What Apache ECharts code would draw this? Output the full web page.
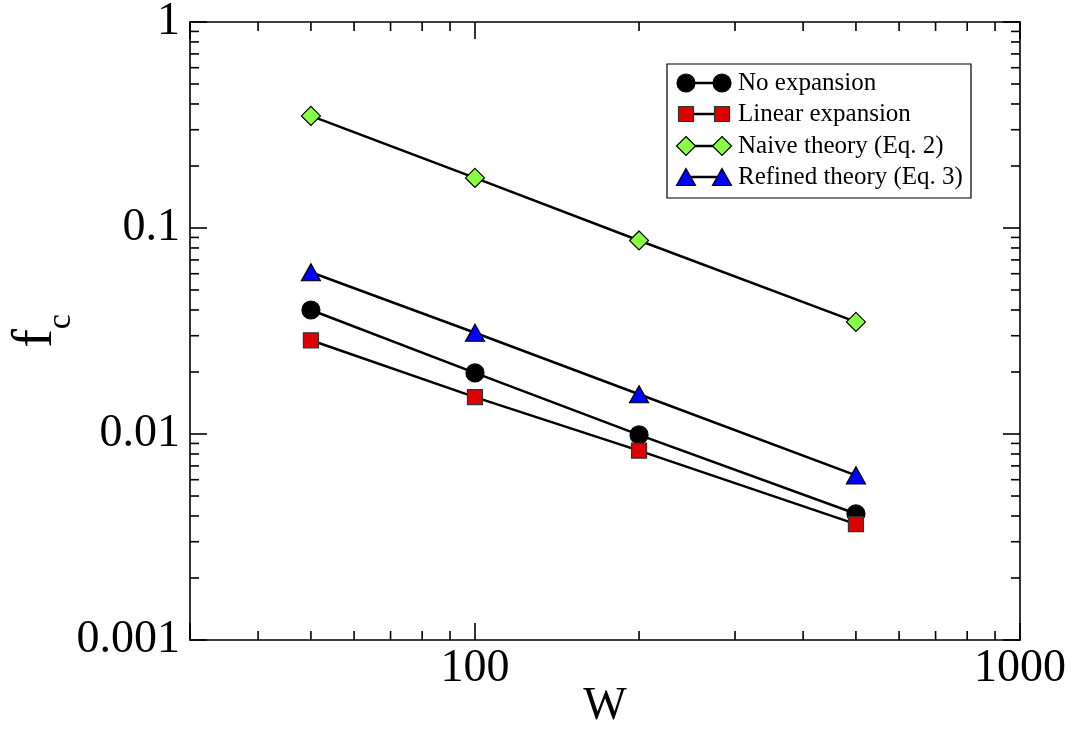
<!DOCTYPE html>
<html>
<head>
<meta charset="utf-8">
<script src="https://cdn.jsdelivr.net/npm/echarts@6/dist/echarts.min.js"></script>
<style>html,body{margin:0;padding:0;background:#fff}#c{width:1076px;height:730px}</style>
</head>
<body>
<div id="c"></div>
<script>
var W = [50, 100, 200, 500];
var noExpansion = [0.040, 0.0198, 0.0099, 0.0041];
var linearExpansion = [0.0285, 0.0151, 0.0083, 0.00365];
var naiveTheory = [0.35, 0.175, 0.087, 0.035];
var refinedTheory = [0.061, 0.031, 0.0156, 0.0063];
var seriesNames = ['No expansion', 'Linear expansion', 'Naive theory (Eq. 2)', 'Refined theory (Eq. 3)'];
var xTickValues = [100, 1000];
var xTickLabels = ['100', '1000'];
var yTickValues = [0.001, 0.01, 0.1, 1];
var yTickLabels = ['0.001', '0.01', '0.1', '1'];

var FONT = '"Liberation Serif", "Times New Roman", Times, serif';
var chart = echarts.init(document.getElementById('c'));

function pair(vals) { return W.map(function (w, i) { return [w, vals[i]]; }); }
function near(v, arr) {
  for (var i = 0; i < arr.length; i++) {
    if (Math.abs(Math.log(v) / Math.LN10 - Math.log(arr[i]) / Math.LN10) < 1e-6) return i;
  }
  return -1;
}

var axisLineStyle = { color: '#000', width: 1.6 };
var tickStyle = { color: '#000', width: 1.6 };

function xAxisCfg(pos, showLabel) {
  return {
    type: 'log', logBase: 10, min: 30, max: 1000, position: pos,
    axisLine: { show: true, onZero: false, lineStyle: axisLineStyle },
    axisTick: { show: true, inside: true, length: 17, lineStyle: tickStyle },
    splitLine: { show: false },
    axisLabel: {
      show: showLabel, margin: 6, fontFamily: FONT, fontSize: 46, color: '#000',
      formatter: function (v) { var i = near(v, xTickValues); return i >= 0 ? xTickLabels[i] : ''; }
    },
    name: showLabel ? 'W' : '', nameLocation: 'middle', nameGap: 44, nameMoveOverlap: false,
    nameTextStyle: { fontFamily: FONT, fontSize: 46, color: '#000' }
  };
}
function yAxisCfg(pos, showLabel) {
  return {
    type: 'log', logBase: 10, min: 0.001, max: 1, position: pos,
    axisLine: { show: true, onZero: false, lineStyle: axisLineStyle },
    axisTick: { show: true, inside: true, length: 17, lineStyle: tickStyle },
    splitLine: { show: false },
    axisLabel: {
      show: showLabel, margin: 10, fontFamily: FONT, fontSize: 46, color: '#000',
      formatter: function (v) { var i = near(v, yTickValues); return i >= 0 ? yTickLabels[i] : ''; }
    },
    name: showLabel ? '{f|f}{c|c}' : '', nameLocation: 'middle', nameRotate: 90, nameGap: 112, nameMoveOverlap: false,
    nameTextStyle: {
      rich: {
        f: { fontFamily: FONT, fontSize: 56, color: '#000', verticalAlign: 'top', padding: [0, 0, 14, 0] },
        c: { fontFamily: FONT, fontSize: 34, color: '#000', verticalAlign: 'bottom' }
      }
    }
  };
}

function lineSeries(name, vals, symbol, size, color, borderColor) {
  return {
    name: name, type: 'line', data: pair(vals), symbol: symbol, symbolSize: size,
    showAllSymbol: true, animation: false, z: 3,
    lineStyle: { color: '#000', width: 2.5 },
    itemStyle: { color: color, borderColor: borderColor, borderWidth: 1.2 },
    emphasis: { disabled: true }
  };
}

var option = {
  backgroundColor: '#fff',
  animation: false,
  grid: { left: 190, right: 56, top: 22, bottom: 90, containLabel: false, outerBoundsMode: 'none' },
  xAxis: [xAxisCfg('bottom', true), xAxisCfg('top', false)],
  yAxis: [yAxisCfg('left', true), yAxisCfg('right', false)],
  series: [
    lineSeries(seriesNames[0], noExpansion, 'circle', 18, '#000', '#000'),
    lineSeries(seriesNames[1], linearExpansion, 'rect', 15, '#dd0000', '#333'),
    lineSeries(seriesNames[2], naiveTheory, 'diamond', 19, '#88ff44', '#000'),
    lineSeries(seriesNames[3], refinedTheory, 'triangle', [19, 17], '#0000ff', '#000')
  ]
};
chart.setOption(option);

// minor ticks + legend (positions from the chart's own scales)
var g = [];
var gLeft = chart.convertToPixel({ xAxisIndex: 0 }, 30);
var gRight = chart.convertToPixel({ xAxisIndex: 0 }, 1000);
var gTop = chart.convertToPixel({ yAxisIndex: 0 }, 1);
var gBottom = chart.convertToPixel({ yAxisIndex: 0 }, 0.001);
var minorLen = 9;
function addLine(x1, y1, x2, y2) {
  g.push({ type: 'line', silent: true, z: 10,
    shape: { x1: x1, y1: y1, x2: x2, y2: y2 }, style: { stroke: '#000', lineWidth: 1.6 } });
}
[10, 100].forEach(function (d) {
  for (var k = 2; k <= 9; k++) {
    var v = k * d;
    if (v < 30 || v > 1000) continue;
    var px = chart.convertToPixel({ xAxisIndex: 0 }, v);
    addLine(px, gBottom, px, gBottom - minorLen);
    addLine(px, gTop, px, gTop + minorLen);
  }
});
[0.001, 0.01, 0.1].forEach(function (d) {
  for (var k = 2; k <= 9; k++) {
    var v = k * d;
    var py = chart.convertToPixel({ yAxisIndex: 0 }, v);
    addLine(gLeft, py, gLeft + minorLen, py);
    addLine(gRight, py, gRight - minorLen, py);
  }
});

// legend
var lgX = 667, lgY = 64, lgW = 304, lgH = 134;
g.push({ type: 'rect', silent: true, z: 20, shape: { x: lgX, y: lgY, width: lgW, height: lgH },
  style: { fill: '#fff', stroke: '#000', lineWidth: 1.2 } });
var rowY = [83, 114, 146, 177];
var mx1 = 686, mx2 = 722;
var colors = [['#000', '#000'], ['#dd0000', '#333'], ['#88ff44', '#000'], ['#0000ff', '#000']];
function marker(i, cx, cy) {
  var st = { fill: colors[i][0], stroke: colors[i][1], lineWidth: 1.2 };
  if (i === 0) return { type: 'circle', silent: true, z: 22, shape: { cx: cx, cy: cy, r: 9 }, style: st };
  if (i === 1) return { type: 'rect', silent: true, z: 22, shape: { x: cx - 7.5, y: cy - 7.5, width: 15, height: 15 }, style: st };
  if (i === 2) return { type: 'polygon', silent: true, z: 22, shape: { points: [[cx, cy - 9.5], [cx + 9.5, cy], [cx, cy + 9.5], [cx - 9.5, cy]] }, style: st };
  return { type: 'polygon', silent: true, z: 22, shape: { points: [[cx, cy - 8.5], [cx + 9.5, cy + 8.5], [cx - 9.5, cy + 8.5]] }, style: st };
}
seriesNames.forEach(function (n, i) {
  var cy = rowY[i];
  g.push({ type: 'line', silent: true, z: 21, shape: { x1: mx1, y1: cy, x2: mx2, y2: cy }, style: { stroke: '#000', lineWidth: 2.5 } });
  g.push(marker(i, mx1, cy));
  g.push(marker(i, mx2, cy));
  g.push({ type: 'text', silent: true, z: 22, x: 738, y: cy,
    style: { text: n, fontFamily: FONT, fontSize: 25, fill: '#000', verticalAlign: 'middle', align: 'left' } });
});

chart.setOption({ graphic: { elements: g } });
</script>
</body>
</html>
